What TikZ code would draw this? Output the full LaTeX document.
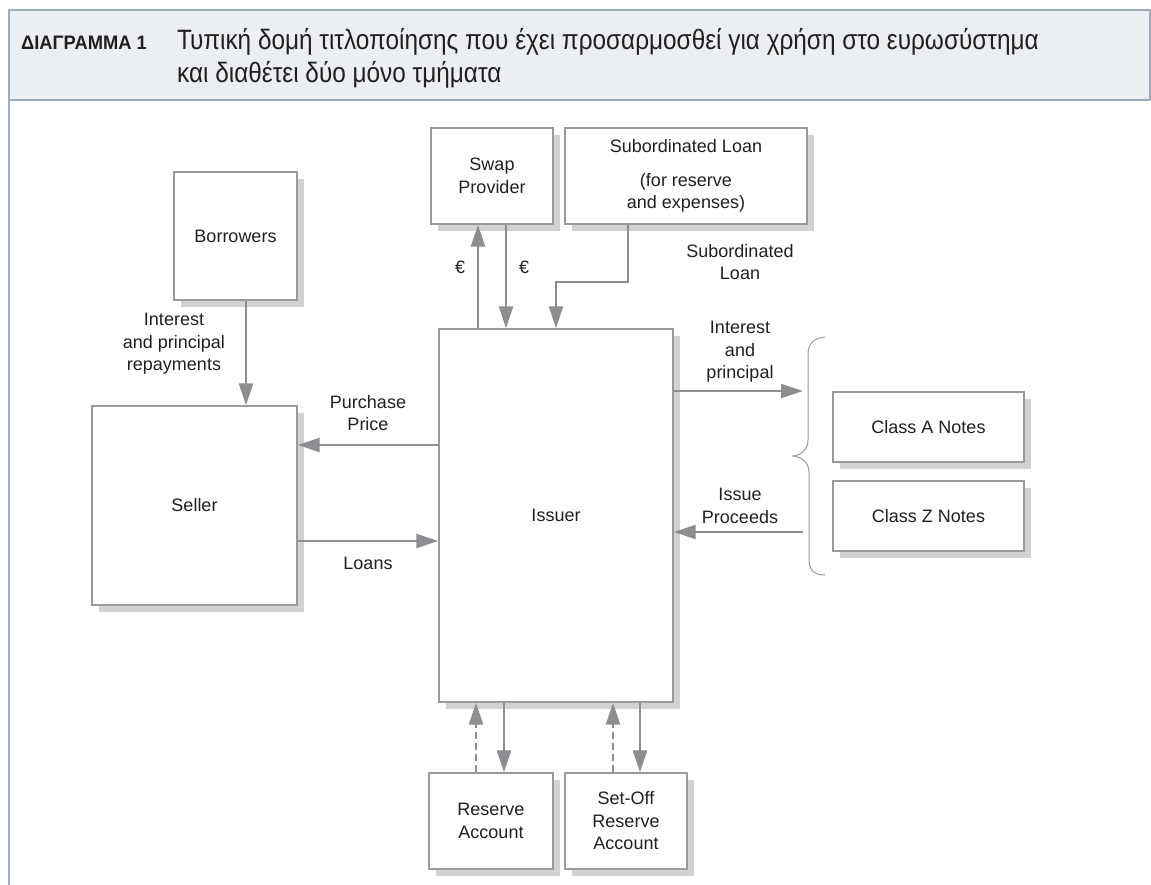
\documentclass[tikz,border=0pt]{standalone}
\usepackage{fontspec}
\setmainfont{Liberation Sans}
\newfontfamily\titlefont[FakeStretch=0.87]{Liberation Sans}
\newfontfamily\headfont[FakeStretch=0.94]{Liberation Sans}
\usetikzlibrary{arrows.meta,shadows}
\definecolor{hdrfill}{HTML}{ECEFF2}
\definecolor{hdrline}{HTML}{9DABBE}
\definecolor{boxline}{HTML}{9A9A9A}
\definecolor{shade}{HTML}{D1D2D4}
\definecolor{arr}{HTML}{8D8E91}
\definecolor{txt}{HTML}{231F20}
\begin{document}
\begin{tikzpicture}[x=1pt,y=-1pt,
  every node/.style={text=txt, font=\fontsize{18}{22.5}\selectfont},
  box/.style={draw=boxline, line width=1.3pt, fill=white, inner sep=0pt, align=center,
    general shadow={fill=shade, shadow xshift=7pt, shadow yshift=-7pt}},
  lab/.style={align=center, inner sep=0pt},
  flow/.style={draw=arr, line width=2.2pt, -{Triangle[length=22pt,width=14pt]}},
  dflow/.style={flow, dash pattern=on 7pt off 4pt}]
\useasboundingbox (0,0) rectangle (1151,885);
% header
\fill[hdrfill] (9,10) rectangle (1150,100);
\draw[hdrline, line width=1.3pt] (1150,100) -- (1150,10) -- (9,10) -- (9,885);
\draw[hdrline, line width=1.3pt] (9,100) -- (1150,100);
\node[anchor=base west, inner sep=0pt, font=\headfont\bfseries\fontsize{19.5}{22}\selectfont] (hd) at (21,50) {ΔΙΑΓΡΑΜΜΑ 1};
\node[anchor=base west, inner sep=0pt, font=\titlefont\fontsize{28}{33}\selectfont] (t1) at (177,50) {Τυπική δομή τιτλοποίησης που έχει προσαρμοσθεί για χρήση στο ευρωσύστημα};
\node[anchor=base west, inner sep=0pt, font=\titlefont\fontsize{28}{33}\selectfont] (t2) at (177,83) {και διαθέτει δύο μόνο τμήματα};
% boxes
\node[box, minimum width=123pt, minimum height=128pt] (bor) at (235.5,236) {Borrowers};
\node[box, minimum width=205pt, minimum height=199pt] (sel) at (194.5,505.5) {Seller};
\node[box, minimum width=122pt, minimum height=96pt] (swap) at (492,176) {Swap\\Provider};
\node[box, minimum width=242pt, minimum height=96pt] (sub) at (686,176) {Subordinated Loan\\[11pt](for reserve\\and expenses)};
\node[box, minimum width=234pt, minimum height=373pt] (iss) at (556,515.5) {Issuer};
\node[box, minimum width=124pt, minimum height=96pt] (res) at (491,821) {Reserve\\Account};
\node[box, minimum width=122pt, minimum height=96pt] (sor) at (626,821) {Set-Off\\Reserve\\Account};
\node[box, minimum width=191pt, minimum height=70pt] (cla) at (928.5,427) {Class A Notes};
\node[box, minimum width=191pt, minimum height=70pt] (clz) at (928.5,516) {Class Z Notes};
% brace
\draw[boxline, line width=1pt] (825,337) .. controls (813,338) and (808,344) .. (808,355) -- (808,440) .. controls (808,450) and (801,455) .. (793,456) .. controls (801,457) and (809,462) .. (809,472) -- (809,560) .. controls (809,570) and (814,575) .. (825,575);
\coordinate (bA) at (803,391);
\coordinate (bZ) at (803,532);
% arrows
\draw[flow] (bor.south -| 246,0) -- (sel.north -| 246,0);
\draw[flow] (iss.west |- 0,445) -- (sel.east |- 0,445);
\draw[flow] (sel.east |- 0,541) -- (iss.west |- 0,541);
\draw[flow] (iss.north -| 478,0) -- (swap.south -| 478,0);
\draw[flow] (swap.south -| 506,0) -- (iss.north -| 506,0);
\draw[flow] (sub.south -| 628,0) -- (628,282) -- (556,282) -- (iss.north -| 556,0);
\draw[flow] (iss.east |- bA) -- (bA);
\draw[flow] (bZ) -- (iss.east |- bZ);
\draw[dflow] (res.north -| 476,0) -- (iss.south -| 476,0);
\draw[flow] (iss.south -| 504,0) -- (res.north -| 504,0);
\draw[dflow] (sor.north -| 613,0) -- (iss.south -| 613,0);
\draw[flow] (iss.south -| 640,0) -- (sor.north -| 640,0);
% labels
\node[lab] (l1) at (174,344) {Interest\\and principal\\repayments};
\node[lab] (l2) at (368,413) {Purchase\\Price};
\node[lab] (l3) at (368,563) {Loans};
\node[lab] (e1) at (460,267) {€};
\node[lab] (e2) at (524,267) {€};
\node[lab] (l4) at (740,262) {Subordinated\\Loan};
\node[lab] (l5) at (740,352) {Interest\\and\\principal};
\node[lab] (l6) at (740,506) {Issue\\Proceeds};
\end{tikzpicture}
\end{document}
